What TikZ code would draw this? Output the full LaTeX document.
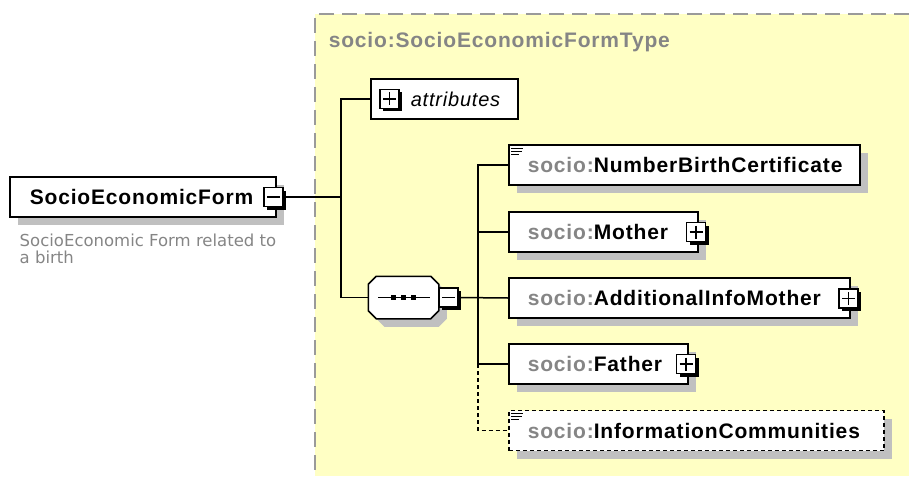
\documentclass[tikz,border=0pt]{standalone}
\usepackage{fontspec}
\setmainfont{Liberation Sans}[LetterSpace=4]
\newfontfamily\descfont{DejaVu Sans}
\usetikzlibrary{shadows,calc}
\definecolor{bgyellow}{HTML}{FFFFC4}
\definecolor{bordergray}{HTML}{9A9A9A}
\definecolor{txtgray}{HTML}{858585}
\definecolor{shadowgray}{HTML}{C0C0C0}
\begin{document}
\begin{tikzpicture}[x=1pt,y=-1pt,line width=1.5pt,
  bigshadow/.style={drop shadow={shadow xshift=8pt, shadow yshift=-8pt, fill=shadowgray, opacity=1}},
  elem/.style={draw=black, fill=white, line width=1.5pt, anchor=west,
    inner xsep=19pt, inner ysep=0pt, minimum height=40pt, align=left,
    font=\fontsize{21}{25}\selectfont\bfseries, bigshadow},
  optelem/.style={elem, dashed, dash pattern=on 4pt off 3pt},
  pmbox/.style={draw=black, fill=white, line width=1.3pt, minimum width=19pt,
    minimum height=19pt, inner sep=0pt,
    drop shadow={shadow xshift=3pt, shadow yshift=-3pt, fill=black, opacity=1}},
  plusicon/.style={pmbox, path picture={
    \draw[line width=1.4pt] ([xshift=3pt]path picture bounding box.west) -- ([xshift=-3pt]path picture bounding box.east);
    \draw[line width=1.4pt] ([yshift=-3pt]path picture bounding box.north) -- ([yshift=3pt]path picture bounding box.south);}},
  minusicon/.style={pmbox, path picture={
    \draw[line width=1.4pt] ([xshift=3pt]path picture bounding box.west) -- ([xshift=-3pt]path picture bounding box.east);}},
  conn/.style={draw=black, line width=1.5pt},
  optconn/.style={conn, dash pattern=on 4pt off 3pt},
  marker/.style={line width=1pt}
]
\useasboundingbox (0,0) rectangle (909,476);
% type region
\fill[bgyellow] (315,14) rectangle (909,476);
\draw[bordergray, line width=1.8pt, dash pattern=on 15pt off 8pt] (909,14) -- (315,14) -- (315,476);
\node[anchor=west, inner sep=0pt, text=txtgray, font=\fontsize{21}{25}\selectfont\bfseries] (title) at (328,42) {socio:SocioEconomicFormType};

% root element
\node[elem, inner xsep=20pt, text width=226pt] (sef) at (9,197) {\mbox{SocioEconomicForm}};
\node[minusicon] (sefm) at (273.5,197) {};
\node[anchor=north west, inner sep=0pt, align=left, text=txtgray, font=\descfont\fontsize{16.5}{17}\selectfont] (desc) at (19,233) {SocioEconomic Form related to\\a birth};

% attributes
\node[draw=black, fill=white, line width=1.5pt, anchor=west, inner xsep=8pt, inner ysep=0pt,
  minimum height=40pt, text width=131pt, align=left, font=\fontsize{20}{24}\selectfont] (attr) at (370,99) {\hspace*{32pt}\itshape attributes};
\node[plusicon] (attrp) at (389.5,99) {};

% sequence compositor
\node[minimum width=69pt, minimum height=41pt, inner sep=0pt] (seq) at (403.5,297.5) {};
\filldraw[fill=white, draw=black, line width=1.5pt, bigshadow]
  ([xshift=8pt]seq.north west) -- ([xshift=-8pt]seq.north east) -- ([yshift=-8pt]seq.north east)
  -- ([yshift=8pt]seq.south east) -- ([xshift=-8pt]seq.south east) -- ([xshift=8pt]seq.south west)
  -- ([yshift=8pt]seq.south west) -- ([yshift=-8pt]seq.north west) -- cycle;
\draw[line width=1.5pt] ([xshift=10pt]seq.west) -- ([xshift=-9pt]seq.east);
\fill ([xshift=-12.5pt,yshift=2.5pt]seq.center) rectangle ++(5,5);
\fill ([xshift=-2.5pt,yshift=2.5pt]seq.center) rectangle ++(5,5);
\fill ([xshift=7.5pt,yshift=2.5pt]seq.center) rectangle ++(5,5);
\node[minusicon] (seqm) at (448.5,297.5) {};

% children
\node[elem, text width=313pt] (nbc) at (508,165) {\mbox{\textcolor{txtgray}{socio:}NumberBirthCertificate}};
\node[elem, text width=151pt] (mot) at (508,232) {\mbox{\textcolor{txtgray}{socio:}Mother}};
\node[plusicon] (motp) at (696,232) {};
\node[elem, text width=303pt] (aim) at (508,298) {\mbox{\textcolor{txtgray}{socio:}AdditionalInfoMother}};
\node[plusicon] (aimp) at (848.5,298.5) {};
\node[elem, text width=141pt] (fat) at (508,364) {\mbox{\textcolor{txtgray}{socio:}Father}};
\node[plusicon] (fatp) at (686,364) {};
\node[optelem, text width=337pt] (ic) at (508,430.5) {\mbox{\textcolor{txtgray}{socio:}InformationCommunities}};

% simple-content markers
\foreach \n in {nbc,ic}{
  \draw[marker] ([xshift=3pt,yshift=-4pt]\n.north west) -- ++(12,0);
  \draw[marker] ([xshift=3pt,yshift=-7pt]\n.north west) -- ++(11,0);
  \draw[marker] ([xshift=3pt,yshift=-10pt]\n.north west) -- ++(8,0);
}

% connectors
\coordinate (j1) at (341,197);
\coordinate (j2) at (478,297.5);
\draw[conn] (sefm.east) -- (j1);
\draw[conn] (attr.west) -| (j1);
\draw[conn] (seq.west) -| (j1);
\draw[conn] (seqm.east) -- (aim.west);
\draw[conn] (nbc.west) -| (j2) |- (fat.west);
\draw[conn] (mot.west) -- (mot.west -| j2);
\draw[optconn] (fat.west -| j2) |- (ic.west);
\end{tikzpicture}
\end{document}
